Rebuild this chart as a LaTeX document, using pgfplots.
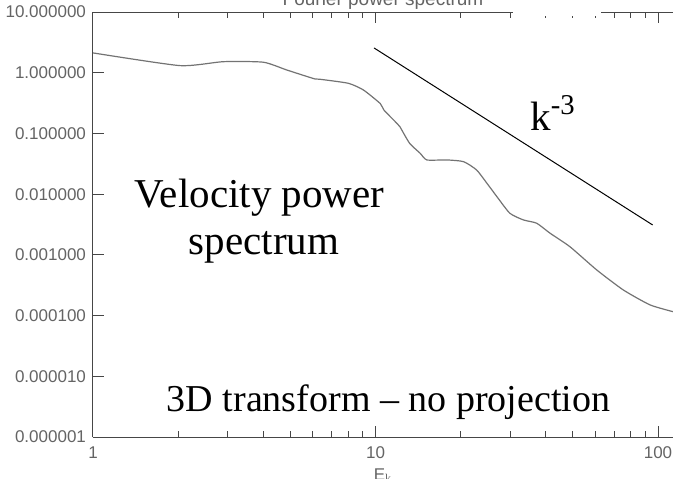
\documentclass[border=0pt]{standalone}
\usepackage{pgfplots}
\pgfplotsset{compat=1.18}
\usepackage{fontspec}
\setmainfont{Liberation Serif}
\newfontfamily\tickfont{Liberation Sans}
\definecolor{axgray}{RGB}{70,70,70}
\definecolor{lblgray}{RGB}{100,100,100}
\definecolor{curvegray}{RGB}{115,115,115}

\begin{document}
\begin{tikzpicture}
\begin{axis}[
  name=ax,
  at={(0,0)}, anchor=south west,
  scale only axis,
  width=290pt, height=212.5pt,
  xmode=log, ymode=log,
  xmin=1, xmax=113, ymin=1e-6, ymax=10,
  axis y line*=left,
  axis line style={axgray, line width=0.5pt},
  every tick/.style={axgray, line width=0.5pt},
  major tick length=5.5pt, minor tick length=3pt,
  xtick={1,10,100}, xticklabels={1,10,100},
  ytick={1e-6,1e-5,1e-4,1e-3,1e-2,1e-1,1,10},
  yticklabels={0.000001,0.000010,0.000100,0.001000,0.010000,0.100000,1.000000,10.000000},
  yminorticks=false,
  /pgf/number format/assume math mode=true,
  tick label style={font=\tickfont\fontsize{8.5}{10}\selectfont, text=lblgray},
  xticklabel style={yshift=-1.5pt},
]
% power spectrum
\addplot[curvegray, line width=0.6pt, smooth, tension=0.35] coordinates {
(1,2.12) (2.03,1.31) (2.89,1.52) (4.01,1.49) (4.85,1.11) (6.1,0.79) (6.36,0.78)
(8.01,0.67) (9.06,0.52) (10.4,0.31) (10.7,0.244) (11.9,0.147) (12.2,0.129)
(13.2,0.069) (14.4,0.047) (15.2,0.0366) (17.9,0.0366) (20.5,0.0343) (22.8,0.025)
(24.8,0.0151) (26.9,0.0091) (29.9,0.00484) (33.4,0.00376) (37.2,0.00332)
(41.5,0.00227) (48.8,0.00136) (60.7,0.000564) (75.4,0.000264) (93.7,0.000150)
(113,0.000116)
};
% k^-3 reference slope
\addplot[black, line width=0.5pt] coordinates {(9.88,2.56) (95.7,0.00311)};
\end{axis}
\fill[white] (210pt,210.5pt) rectangle (254pt,220pt);
\node[font=\tickfont\fontsize{9.5}{11}\selectfont, text=lblgray, anchor=base] at (145pt,216pt) {Fourier power spectrum};
\node[font=\tickfont\fontsize{8.5}{10}\selectfont, text=lblgray, anchor=base] at (145pt,-21.5pt) {E$_\mathrm{k}$};
\node[font=\fontsize{20.5}{24}\selectfont, anchor=base, inner sep=0pt] at (83.25pt,115pt) {Velocity power};
\node[font=\fontsize{20.5}{24}\selectfont, anchor=base, inner sep=0pt] at (85.5pt,91.5pt) {spectrum};
\node[font=\fontsize{19}{23}\selectfont, anchor=base, inner sep=0pt] at (147.75pt,13pt) {3D transform -- no projection};
\node[font=\fontsize{20.5}{24}\selectfont, anchor=base west, inner sep=0pt] at (218.5pt,153.5pt) {k\textsuperscript{-3}};
\pgfresetboundingbox
\path[use as bounding box] (-46.5pt,-20.5pt) rectangle (290pt,218.5pt);
\end{tikzpicture}
\end{document}
